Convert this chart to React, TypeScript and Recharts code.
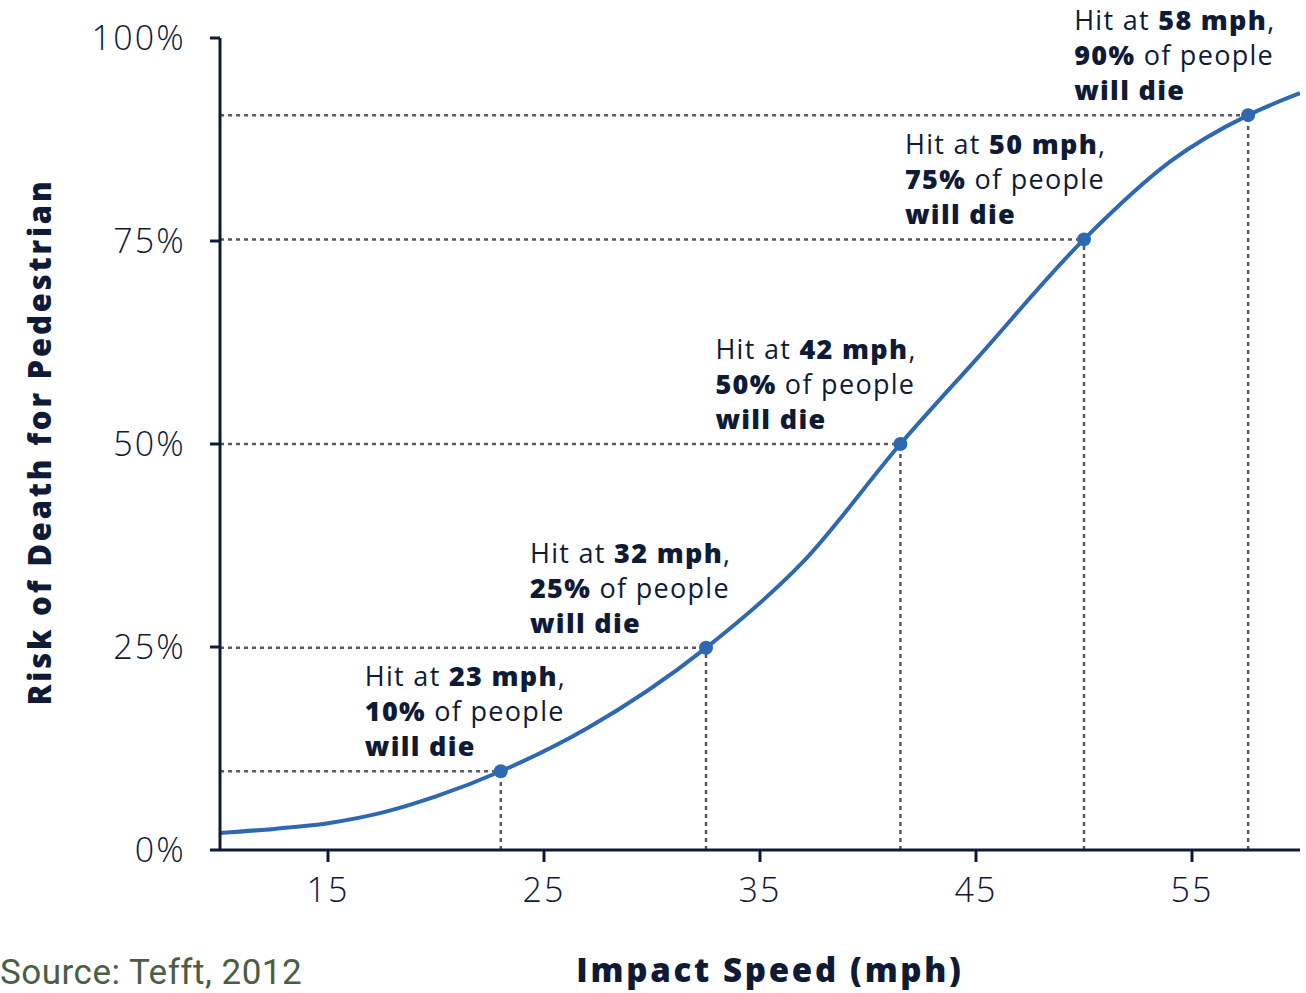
import {
  LineChart,
  Line,
  XAxis,
  YAxis,
  ReferenceLine,
  ReferenceDot,
  Label,
} from "recharts";

// risk curve (speed in mph, risk in %)
const curveSpeeds = [10, 12.5, 15, 17.5, 20, 23, 27, 32.5, 37, 41.5, 45, 50, 54, 57.6, 60];
const curveRisk = [2.1, 2.6, 3.3, 4.6, 6.6, 9.7, 15, 24.9, 35.5, 50, 60.4, 75.2, 84.8, 90.5, 93.2];

// marked points (where they sit on the drawn curve) and their texts
const markSpeeds = [23, 32.5, 41.5, 50, 57.6];
const markRisk = [9.7, 24.9, 50, 75.2, 90.5];
const markSpeedText = ["23 mph", "32 mph", "42 mph", "50 mph", "58 mph"];
const markRiskText = ["10%", "25%", "50%", "75%", "90%"];

const xTicks = [15, 25, 35, 45, 55];
const yTicks = [0, 25, 50, 75, 100];

// how far left of each dot its annotation starts
const labelDx = [-136, -176, -185, -179, -174];

const data = curveSpeeds.map((s, i) => ({ speed: s, risk: curveRisk[i] }));

const NAVY = "#0e1a36";
const BLUE = "#2e68b3";
const GRID = "#555a63";
const FONT = "'Open Sans', sans-serif";

function Annotation(props: any) {
  const { cx, cy, idx } = props;
  const x = cx + labelDx[idx];
  const y0 = cy - 85;
  const common = { fontSize: 27, fill: NAVY, fontFamily: FONT, letterSpacing: 1.3 };
  return (
    <g>
      <circle cx={cx} cy={cy} r={7} fill={BLUE} />
      <text x={x} y={y0} {...common}>
        <tspan>Hit at </tspan>
        <tspan fontWeight={800}>{markSpeedText[idx]}</tspan>
        <tspan>,</tspan>
      </text>
      <text x={x} y={y0 + 35} {...common}>
        <tspan fontWeight={800}>{markRiskText[idx]}</tspan>
        <tspan> of people</tspan>
      </text>
      <text x={x} y={y0 + 70} {...common} fontWeight={800}>
        will die
      </text>
    </g>
  );
}

export default function App() {
  return (
    <div style={{ position: "absolute", left: 0, top: 0, background: "#fff" }}>
      <LineChart
        width={1306}
        height={993}
        data={data}
        margin={{ top: 38, right: 6, left: 0, bottom: 0 }}
      >
        <XAxis
          dataKey="speed"
          type="number"
          domain={[10, 60]}
          ticks={xTicks}
          allowDataOverflow
          height={143}
          tickSize={12}
          tickMargin={16}
          axisLine={{ stroke: NAVY, strokeWidth: 3 }}
          tickLine={{ stroke: NAVY, strokeWidth: 3 }}
          tick={{ fill: NAVY, fontSize: 34, fontFamily: FONT, fontWeight: 300, letterSpacing: 2 }}
        >
          <Label
            content={(p: any) => (
              <text
                x={p.viewBox.x + p.viewBox.width / 2 + 10}
                y={982}
                textAnchor="middle"
                fontSize={33}
                fontWeight={800}
                fill={NAVY}
                fontFamily={FONT}
                letterSpacing={2.7}
              >
                Impact Speed (mph)
              </text>
            )}
          />
          <Label
            content={() => (
              <text x={0} y={984} fontSize={35} fill="#4b5e44" fontFamily="Roboto, sans-serif" letterSpacing={0.5}>
                Source: Tefft, 2012
              </text>
            )}
          />
        </XAxis>
        <YAxis
          type="number"
          domain={[0, 100]}
          ticks={yTicks}
          allowDataOverflow
          width={220}
          tickSize={10}
          tickMargin={24}
          tickFormatter={(v: number) => `${v}%`}
          axisLine={{ stroke: NAVY, strokeWidth: 3 }}
          tickLine={{ stroke: NAVY, strokeWidth: 3 }}
          tick={{ fill: NAVY, fontSize: 34, fontFamily: FONT, fontWeight: 300, letterSpacing: 2.2 }}
        >
          <Label
            content={(p: any) => {
              const cy = p.viewBox.y + p.viewBox.height / 2 - 2;
              return (
                <text
                  x={51}
                  y={cy}
                  transform={`rotate(-90 51 ${cy})`}
                  textAnchor="middle"
                  fontSize={31}
                  fontWeight={800}
                  fill={NAVY}
                  fontFamily={FONT}
                  letterSpacing={2.8}
                >
                  Risk of Death for Pedestrian
                </text>
              );
            }}
          />
        </YAxis>

        {markSpeeds.map((s, i) => (
          <ReferenceLine
            key={`h${i}`}
            segment={[
              { x: 10, y: markRisk[i] },
              { x: s, y: markRisk[i] },
            ]}
            stroke={GRID}
            strokeWidth={2.5}
            strokeDasharray="4 4"
            ifOverflow="visible"
          />
        ))}
        {markSpeeds.map((s, i) => (
          <ReferenceLine
            key={`v${i}`}
            segment={[
              { x: s, y: 0 },
              { x: s, y: markRisk[i] },
            ]}
            stroke={GRID}
            strokeWidth={2.5}
            strokeDasharray="4 4"
            ifOverflow="visible"
          />
        ))}

        <Line
          type="monotone"
          dataKey="risk"
          stroke={BLUE}
          strokeWidth={4}
          dot={false}
          activeDot={false}
          isAnimationActive={false}
        />

        {markSpeeds.map((s, i) => (
          <ReferenceDot
            key={`d${i}`}
            x={s}
            y={markRisk[i]}
            r={7}
            ifOverflow="visible"
            shape={(p: any) => <Annotation {...p} idx={i} />}
          />
        ))}
      </LineChart>
    </div>
  );
}
